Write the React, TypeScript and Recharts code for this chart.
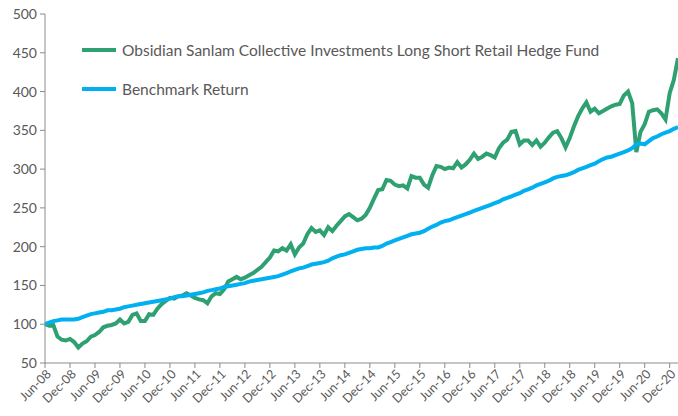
import { LineChart, Line, XAxis, YAxis } from 'recharts';

const MONTH_NAMES = ['Jan', 'Feb', 'Mar', 'Apr', 'May', 'Jun', 'Jul', 'Aug', 'Sep', 'Oct', 'Nov', 'Dec'];

// monthly index values, Jun-08 .. Feb-21
const fund = [
  100, 98, 99, 84, 80, 79, 81, 77, 70, 75, 78, 84, 86, 90, 96, 98, 99, 101, 106, 101,
  103, 112, 114, 104, 104, 113, 112, 120, 126, 130, 134, 133, 136, 137, 140, 137, 134, 132, 131, 127,
  136, 140, 139, 145, 155, 158, 161, 158, 160, 163, 166, 170, 174, 180, 186, 195, 194, 198, 195, 203,
  190, 199, 204, 216, 224, 219, 221, 215, 225, 220, 227, 233, 239, 242, 238, 234, 236, 241, 250, 262,
  273, 274, 286, 285, 280, 278, 279, 275, 291, 289, 289, 280, 276, 292, 304, 303, 300, 302, 301, 309,
  302, 306, 312, 320, 313, 316, 320, 318, 315, 327, 334, 338, 348, 349, 332, 337, 337, 331, 337, 329,
  334, 341, 347, 349, 340, 328, 340, 355, 368, 378, 386, 374, 378, 372, 375, 378, 381, 383, 384, 395,
  400, 385, 322, 348, 358, 374, 376, 377, 372, 364, 398, 415, 443,
];

const benchmark = [
  100, 102, 104, 105, 106, 106, 106, 106, 107, 109, 111, 113, 114, 115, 116, 118, 118, 119, 120, 122,
  123, 124, 125, 126, 127, 128, 129, 130, 131, 132, 133, 135, 136, 136, 137, 138, 139, 140, 141, 143,
  144, 145, 146, 148, 149, 150, 151, 152, 153, 155, 156, 157, 158, 159, 160, 161, 162, 164, 166, 168,
  170, 172, 173, 175, 177, 178, 179, 180, 182, 185, 187, 189, 190, 192, 194, 196, 197, 198, 198, 199,
  199, 201, 204, 206, 208, 210, 212, 214, 216, 217, 218, 220, 223, 226, 228, 231, 233, 234, 236, 238,
  240, 242, 244, 246, 248, 250, 252, 254, 256, 258, 261, 263, 265, 267, 269, 272, 274, 276, 279, 281,
  283, 285, 288, 290, 291, 292, 294, 296, 299, 301, 303, 305, 307, 310, 313, 315, 316, 318, 320, 322,
  324, 327, 332, 333, 332, 336, 340, 342, 345, 347, 349, 352, 354,
];

const yTicks = [50, 100, 150, 200, 250, 300, 350, 400, 450, 500];

const fundName = 'Obsidian Sanlam Collective Investments Long Short Retail Hedge Fund';
const benchName = 'Benchmark Return';

const GREEN = '#2fa071';
const BLUE = '#00b0f0';
const TEXT = '#595959';
const AXIS = '#8c8c8c';
const FONT = 'Lato, "Open Sans", sans-serif';

const data = fund.map((v, i) => {
  const m = (5 + i) % 12;
  const yr = 8 + Math.floor((5 + i) / 12);
  return {
    month: `${MONTH_NAMES[m]}-${String(yr).padStart(2, '0')}`,
    fund: v,
    benchmark: benchmark[i],
  };
});

const XTick = ({ x, y, payload }: any) => (
  <g transform={`translate(${x + 4},${y + 2})`}>
    <text
      x={0}
      y={0}
      dy={4}
      transform="rotate(-45)"
      textAnchor="end"
      fill={TEXT}
      fontSize={12.5}
      fontFamily={FONT}
    >
      {payload.value}
    </text>
  </g>
);

const legendItems = [
  { name: fundName, color: GREEN, top: 40 },
  { name: benchName, color: BLUE, top: 79 },
];

export default function App() {
  return (
    <div style={{ position: 'absolute', left: 0, top: 0, width: 678, height: 416, background: '#fff' }}>
      <LineChart width={678} height={416} data={data} margin={{ top: 14, right: 0, left: 0, bottom: 0 }}>
        <XAxis
          dataKey="month"
          interval={5}
          height={53}
          stroke={AXIS}
          tickSize={5}
          tick={<XTick />}
        />
        <YAxis
          domain={[50, 500]}
          ticks={yTicks}
          width={45}
          stroke={AXIS}
          tickSize={5}
          tickMargin={3}
          tick={{ fill: TEXT, fontSize: 14, fontFamily: FONT }}
        />
        <Line
          type="linear"
          dataKey="fund"
          stroke={GREEN}
          strokeWidth={4}
          dot={false}
          isAnimationActive={false}
        />
        <Line
          type="linear"
          dataKey="benchmark"
          stroke={BLUE}
          strokeWidth={4}
          dot={false}
          isAnimationActive={false}
        />
      </LineChart>
      {legendItems.map((e) => (
        <div
          key={e.name}
          style={{
            position: 'absolute',
            left: 82,
            top: e.top,
            height: 20,
            display: 'flex',
            alignItems: 'center',
            fontFamily: FONT,
            fontSize: 15.5,
            color: TEXT,
            whiteSpace: 'nowrap',
          }}
        >
          <span style={{ display: 'inline-block', width: 34, height: 4, background: e.color, marginRight: 6 }} />
          <span>{e.name}</span>
        </div>
      ))}
    </div>
  );
}
